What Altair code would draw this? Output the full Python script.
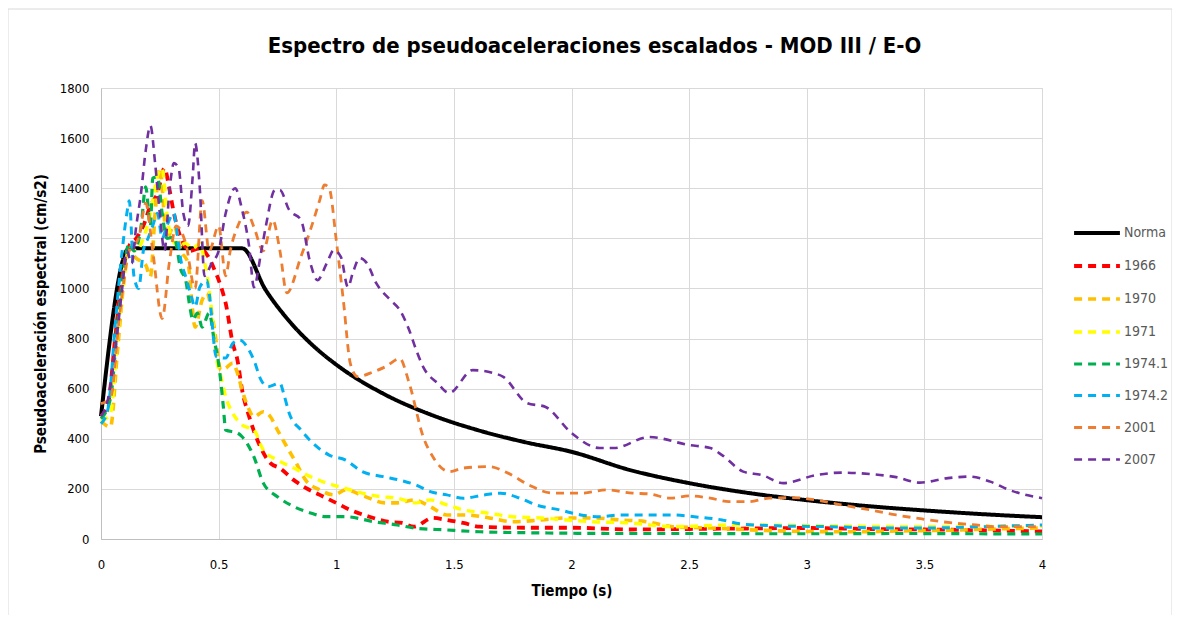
import altair as alt
import pandas as pd

series_names = ["Norma", "1966", "1970", "1971", "1974.1", "1974.2", "2001", "2007"]
series_colors = ["#000000", "#FF0000", "#FFC000", "#FFFF00", "#00B050", "#00B0F0", "#ED7D31", "#7030A0"]

t_norma = [0, 0.12, 0.6, 0.7, 0.8, 0.9, 1.0, 1.2, 1.4, 1.6, 1.8, 2.0, 2.25, 2.5, 2.75, 3.0, 3.25, 3.5, 3.75, 4.0]
v_norma = [490, 1160, 1160, 994, 870, 773, 696, 580, 497, 435, 387, 348, 275, 223, 184, 155, 132, 114, 99, 87]

t_1966 = [0, 0.03, 0.06, 0.09, 0.12, 0.15, 0.18, 0.21, 0.24, 0.27, 0.29, 0.31, 0.34, 0.38, 0.42, 0.46, 0.48, 0.51, 0.53, 0.56, 0.58, 0.60, 0.63, 0.67, 0.72, 0.76, 0.82, 0.87, 0.93, 1.0, 1.06, 1.14, 1.22, 1.28, 1.33, 1.41, 1.47, 1.54, 1.61, 1.8, 2.0, 2.25, 2.5, 2.75, 3.0, 3.25, 3.5, 3.75, 4.0]
v_1966 = [490, 540, 800, 1050, 1170, 1200, 1250, 1330, 1380, 1480, 1400, 1300, 1200, 1150, 1160, 1120, 1080, 1007, 941, 781, 714, 594, 488, 383, 303, 283, 235, 204, 176, 144, 116, 89, 69, 64, 49, 84, 76, 64, 49, 45, 45, 38, 40, 42, 44, 40, 38, 35, 30]

t_1970 = [0, 0.04, 0.07, 0.1, 0.12, 0.15, 0.19, 0.21, 0.23, 0.25, 0.28, 0.31, 0.34, 0.37, 0.40, 0.43, 0.45, 0.48, 0.51, 0.53, 0.56, 0.58, 0.60, 0.63, 0.65, 0.69, 0.72, 0.75, 0.79, 0.83, 0.87, 0.93, 0.99, 1.04, 1.12, 1.21, 1.26, 1.33, 1.40, 1.47, 1.55, 1.65, 1.75, 1.87, 1.98, 2.09, 2.21, 2.32, 2.43, 2.59, 2.8, 3.0, 3.2, 3.4, 3.6, 3.8, 4.0]
v_1970 = [470, 447, 750, 1050, 1150, 1120, 1093, 1047, 1300, 1480, 1200, 1250, 1150, 1101, 846, 954, 981, 850, 674, 682, 702, 662, 594, 515, 488, 508, 488, 435, 368, 303, 235, 196, 176, 196, 170, 144, 144, 156, 129, 96, 96, 84, 69, 76, 84, 84, 76, 69, 49, 44, 35, 30, 29, 32, 35, 40, 44]

t_1971 = [0, 0.04, 0.07, 0.10, 0.12, 0.15, 0.18, 0.21, 0.24, 0.26, 0.28, 0.30, 0.33, 0.36, 0.39, 0.42, 0.44, 0.46, 0.48, 0.49, 0.51, 0.53, 0.56, 0.60, 0.65, 0.69, 0.75, 0.82, 0.89, 0.96, 1.03, 1.11, 1.19, 1.26, 1.34, 1.40, 1.47, 1.54, 1.64, 1.75, 1.87, 1.98, 2.09, 2.25, 2.43, 2.67, 2.9, 3.1, 3.3, 3.52, 3.75, 4.0]
v_1971 = [470, 500, 800, 1050, 1170, 1150, 1200, 1300, 1450, 1480, 1300, 1200, 1170, 1180, 1160, 1180, 1107, 994, 822, 728, 648, 568, 502, 455, 435, 355, 315, 283, 249, 223, 204, 183, 169, 163, 144, 156, 136, 116, 104, 89, 84, 76, 69, 64, 49, 56, 55, 52, 50, 49, 50, 52]

t_1974_1 = [0, 0.04, 0.07, 0.10, 0.12, 0.14, 0.17, 0.19, 0.21, 0.22, 0.24, 0.26, 0.28, 0.31, 0.34, 0.36, 0.38, 0.39, 0.41, 0.43, 0.46, 0.48, 0.50, 0.51, 0.52, 0.53, 0.58, 0.60, 0.65, 0.69, 0.75, 0.82, 0.89, 0.96, 1.04, 1.16, 1.26, 1.33, 1.47, 1.61, 1.9, 2.2, 2.5, 2.8, 3.1, 3.4, 3.7, 4.0]
v_1974_1 = [480, 560, 850, 1100, 1180, 1150, 1245, 1405, 1250, 1440, 1445, 1300, 1200, 1205, 1073, 1033, 914, 874, 902, 846, 902, 800, 700, 622, 528, 435, 423, 408, 328, 223, 169, 129, 104, 89, 89, 69, 56, 44, 36, 29, 24, 22, 22, 21, 21, 22, 21, 20]

t_1974_2 = [0, 0.03, 0.06, 0.09, 0.11, 0.12, 0.14, 0.16, 0.18, 0.20, 0.22, 0.24, 0.26, 0.28, 0.31, 0.32, 0.34, 0.36, 0.38, 0.40, 0.42, 0.45, 0.46, 0.49, 0.53, 0.56, 0.59, 0.62, 0.65, 0.68, 0.71, 0.76, 0.78, 0.80, 0.85, 0.90, 0.97, 1.04, 1.11, 1.20, 1.27, 1.34, 1.40, 1.47, 1.54, 1.63, 1.70, 1.78, 1.85, 1.95, 2.04, 2.12, 2.21, 2.32, 2.43, 2.53, 2.64, 2.72, 2.89, 3.1, 3.31, 3.52, 3.74, 4.0]
v_1974_2 = [460, 520, 850, 1150, 1300, 1350, 1050, 1000, 1150, 1200, 1250, 1300, 1200, 1250, 1300, 1245, 1110, 1047, 981, 927, 1005, 1033, 981, 728, 722, 781, 794, 768, 714, 635, 608, 622, 568, 502, 435, 383, 335, 315, 269, 249, 235, 215, 189, 176, 163, 176, 183, 163, 136, 116, 96, 89, 96, 96, 96, 88, 76, 60, 52, 49, 44, 44, 49, 56]

t_2001 = [0, 0.04, 0.08, 0.12, 0.16, 0.19, 0.22, 0.26, 0.29, 0.32, 0.36, 0.40, 0.43, 0.46, 0.50, 0.53, 0.55, 0.58, 0.62, 0.65, 0.69, 0.73, 0.76, 0.79, 0.85, 0.89, 0.93, 0.95, 0.97, 1.0, 1.03, 1.06, 1.09, 1.16, 1.21, 1.27, 1.31, 1.37, 1.41, 1.48, 1.54, 1.65, 1.73, 1.82, 1.92, 2.04, 2.15, 2.26, 2.33, 2.42, 2.50, 2.59, 2.67, 2.75, 2.84, 2.94, 3.04, 3.15, 3.27, 3.38, 3.49, 3.61, 3.72, 3.81, 4.0]
v_2001 = [540, 560, 900, 1150, 1200, 1340, 1150, 880, 1100, 1250, 1180, 1000, 1350, 1150, 1250, 1050, 1153, 1245, 1305, 1245, 1150, 1273, 1153, 982, 1127, 1233, 1353, 1413, 1400, 1193, 954, 700, 648, 668, 688, 720, 622, 407, 329, 269, 283, 289, 263, 215, 183, 183, 196, 183, 180, 163, 172, 163, 149, 149, 163, 165, 156, 136, 116, 96, 80, 65, 56, 49, 49]

t_2007 = [0, 0.03, 0.06, 0.09, 0.11, 0.13, 0.15, 0.17, 0.19, 0.21, 0.23, 0.25, 0.27, 0.29, 0.31, 0.33, 0.35, 0.37, 0.39, 0.40, 0.42, 0.44, 0.47, 0.50, 0.53, 0.57, 0.60, 0.63, 0.65, 0.68, 0.70, 0.74, 0.76, 0.80, 0.85, 0.89, 0.92, 0.96, 0.99, 1.02, 1.05, 1.07, 1.10, 1.13, 1.17, 1.23, 1.27, 1.31, 1.34, 1.37, 1.43, 1.48, 1.58, 1.67, 1.71, 1.81, 1.89, 2.0, 2.12, 2.18, 2.33, 2.50, 2.59, 2.64, 2.73, 2.81, 2.90, 3.04, 3.15, 3.27, 3.38, 3.48, 3.60, 3.69, 3.78, 3.86, 4.0]
v_2007 = [490, 560, 750, 1000, 1150, 1100, 1250, 1380, 1550, 1650, 1500, 1300, 1150, 1380, 1500, 1480, 1300, 1250, 1450, 1580, 1400, 1050, 1100, 1150, 1300, 1400, 1313, 1165, 1005, 1141, 1245, 1393, 1393, 1313, 1273, 1101, 1033, 1101, 1153, 1125, 1005, 1061, 1121, 1101, 1021, 954, 914, 834, 754, 686, 622, 583, 674, 662, 647, 543, 527, 423, 363, 363, 407, 375, 363, 335, 269, 255, 223, 255, 265, 259, 247, 225, 243, 249, 229, 196, 163]

series_t = [t_norma, t_1966, t_1970, t_1971, t_1974_1, t_1974_2, t_2001, t_2007]
series_v = [v_norma, v_1966, v_1970, v_1971, v_1974_1, v_1974_2, v_2001, v_2007]

x_ticks = [0, 0.5, 1, 1.5, 2, 2.5, 3, 3.5, 4]
y_ticks = [0, 200, 400, 600, 800, 1000, 1200, 1400, 1600, 1800]

rows = []
for name, ts, vs in zip(series_names, series_t, series_v):
    for i, (t, v) in enumerate(zip(ts, vs)):
        rows.append({"serie": name, "t": t, "v": v, "i": i})
df = pd.DataFrame(rows)

FONT = "Liberation Sans Narrow, DejaVu Sans Condensed, Liberation Sans, sans-serif"
dash_range = [[1, 0]] + [[8, 6]] * 7
width_range = [4] + [2.6] * 7

lines = alt.Chart(df).mark_line(interpolate="monotone").encode(
    x=alt.X("t:Q", scale=alt.Scale(domain=[0, 4], nice=False),
            axis=alt.Axis(values=x_ticks, format="~g", title="Tiempo (s)",
                          grid=True, gridColor="#D9D9D9", domainColor="#BFBFBF",
                          ticks=False, labelPadding=19, labelFontSize=13, labelFont=FONT,
                          labelFlush=False,
                          labelColor="#000000", titleFont=FONT, titleFontSize=15,
                          titleFontWeight="bold", titlePadding=12, titleColor="#000000")),
    y=alt.Y("v:Q", scale=alt.Scale(domain=[0, 1800], nice=False),
            axis=alt.Axis(values=y_ticks, format="d", title="Pseudoaceleración espectral (cm/s2)",
                          grid=True, gridColor="#D9D9D9", domainColor="#BFBFBF",
                          ticks=False, labelPadding=12, labelFontSize=13, labelFont=FONT,
                          labelFlush=False,
                          labelColor="#000000", titleFont=FONT, titleFontSize=15,
                          titleFontWeight="bold", titleX=-53, titleColor="#000000")),
    color=alt.Color("serie:N", scale=alt.Scale(domain=series_names, range=series_colors),
                    legend=alt.Legend(title=None)),
    strokeDash=alt.StrokeDash("serie:N", scale=alt.Scale(domain=series_names, range=dash_range),
                              legend=alt.Legend(title=None)),
    strokeWidth=alt.StrokeWidth("serie:N", scale=alt.Scale(domain=series_names, range=width_range),
                                legend=alt.Legend(title=None)),
    order="i:Q",
)

frame = alt.Chart(pd.DataFrame({"k": [0]})).mark_rect(
    filled=False, stroke="#D9D9D9", strokeWidth=1
).encode(
    x=alt.value(-93), x2=alt.value(1071), y=alt.value(-79), y2=alt.value(600)
)

chart = alt.layer(frame, lines).properties(
    width=941, height=451,
    title=alt.TitleParams(
        "Espectro de pseudoaceleraciones escalados - MOD III / E-O",
        font=FONT, fontSize=22, fontWeight="bold", color="#000000",
        anchor="middle", frame="group", offset=-49, dx=23,
    ),
    autosize=alt.AutoSizeParams(type="none"),
    padding={"left": 93, "top": 80, "right": 130, "bottom": 76},
).configure_view(stroke="#D9D9D9").configure_legend(
    orient="none", legendX=971, legendY=120,
    symbolType="stroke", symbolSize=2100, symbolStrokeWidth=3,
    labelFont=FONT, labelFontSize=14, labelColor="#595959",
    rowPadding=0, labelOffset=2,
)

chart.save("out.html", embed_options={"renderer": "svg", "actions": False})
